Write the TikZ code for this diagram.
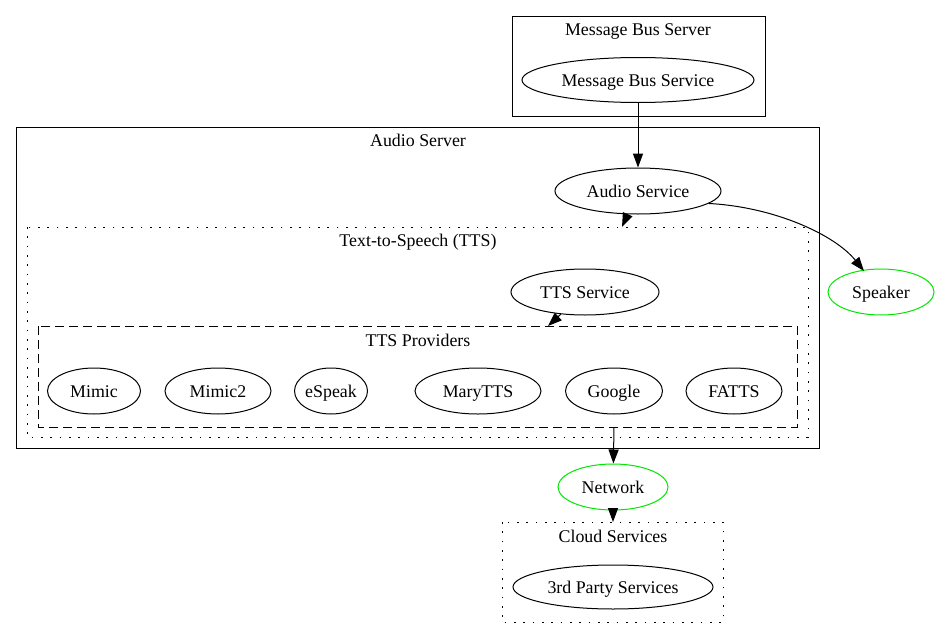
\documentclass[tikz,border=0pt]{standalone}
\usepackage{fontspec}
\setmainfont{Liberation Serif}
\usetikzlibrary{arrows.meta,shapes.geometric}
\begin{document}
\begin{tikzpicture}[x=0.75pt,y=-0.75pt,
  every node/.style={font=\fontsize{13.4pt}{15pt}\selectfont},
  ell/.style={draw,ellipse,inner sep=0pt,line width=0.75pt,minimum height=34.5pt,text height=10.7pt,text depth=1.1pt},
  grn/.style={ell,draw={rgb,255:red,0;green,230;blue,0}},
  clus/.style={draw,line width=0.75pt},
  dotbox/.style={draw,line width=0.75pt,dash pattern=on 1.3pt off 5.7pt},
  dashbox/.style={draw,line width=0.75pt,dash pattern=on 6.75pt off 3.75pt},
  arr/.style={draw,line width=0.75pt,-{Triangle[length=10.5pt,width=7.6pt]}},
  lbl/.style={inner sep=0pt,text height=10.2pt,text depth=1.6pt}
]
\useasboundingbox (0,0) rectangle (939,639);
% clusters
\draw[clus] (512,16) rectangle (765,116);
\node[lbl] (mbslbl) at (638,30) {Message Bus Server};
\draw[clus] (16,127) rectangle (819,448);
\node[lbl] (aslbl) at (418,141) {Audio Server};
\draw[dotbox] (27,227) rectangle (808,437);
\node[lbl] (ttslbl) at (418,241) {Text-to-Speech (TTS)};
\draw[dashbox] (38,326) rectangle (797,427);
\node[lbl] (provlbl) at (418,341) {TTS Providers};
\draw[dotbox] (502,522) rectangle (723,622);
\node[lbl] (cloudlbl) at (613,537) {Cloud Services};
% nodes
\node[ell,minimum width=174pt,minimum height=33.75pt] (mbs) at (638,80) {Message Bus Service};
\node[ell,minimum width=124.5pt] (as) at (638,191) {Audio Service};
\node[grn,minimum width=79.5pt] (spk) at (881,292) {Speaker};
\node[ell,minimum width=111pt] (ttss) at (585,292) {TTS Service};
\node[ell,minimum width=69.75pt] (mimic) at (94,391) {Mimic};
\node[ell,minimum width=79.5pt] (mimic2) at (218,391) {Mimic2};
\node[ell,minimum width=54pt] (espeak) at (331,391) {eSpeak};
\node[ell,minimum width=94.5pt] (mary) at (478,391) {MaryTTS};
\node[ell,minimum width=72.75pt] (google) at (614,391) {Google};
\node[ell,minimum width=72pt] (fatts) at (734,391) {FATTS};
\node[grn,minimum width=82.5pt] (net) at (613,487) {Network};
\node[ell,minimum width=150pt,minimum height=33pt] (third) at (613,587) {3rd Party Services};
% cluster attach points
\coordinate (ttstop) at (622,227);
\coordinate (provtop) at (548,326);
\coordinate (provbot) at (614,427);
\coordinate (cloudtop) at (613,522);
\coordinate (spkin) at (864,271);
% edges
\draw[arr] (mbs) -- (as);
\draw[arr] (as) -- (ttstop);
\draw[arr] (ttss) -- (provtop);
\draw[arr] (provbot) -- (net);
\draw[arr] (net) -- (cloudtop);
\draw[arr] (as.-10) .. controls (775,207) and (835,235) .. (spkin);
\end{tikzpicture}
\end{document}
